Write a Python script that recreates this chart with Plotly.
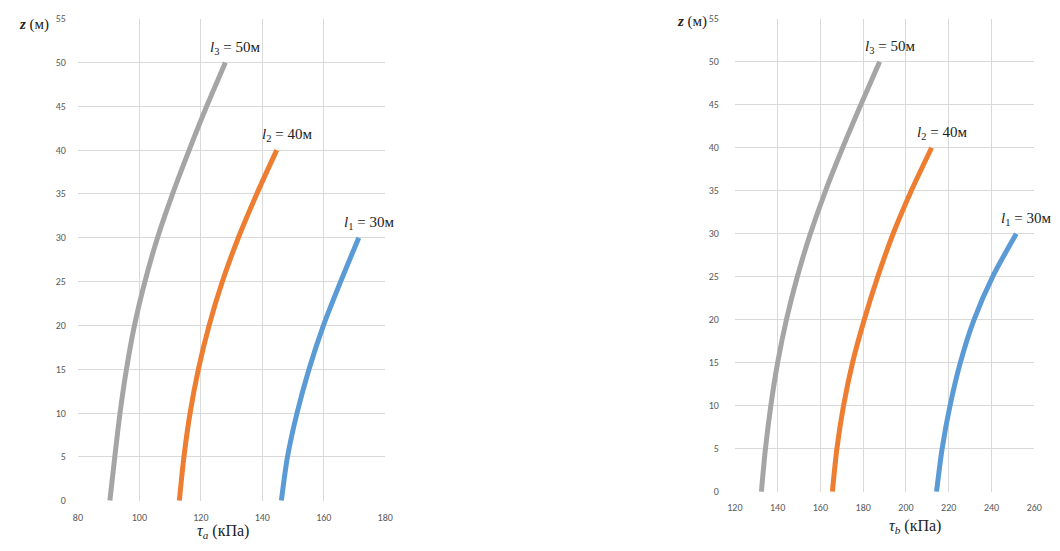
import plotly.graph_objects as go

# Depth z (m) along each pile
z_l1 = [0, 5, 10, 15, 20, 25, 30]
z_l2 = [0, 5, 10, 15, 20, 25, 30, 35, 40]
z_l3 = [0, 5, 10, 15, 20, 25, 30, 35, 40, 45, 50]

# Shear stress tau_a (kPa), left panel
tau_a_l1 = [146.2, 148.2, 151.3, 155.2, 159.9, 165.5, 171.4]
tau_a_l2 = [113.0, 114.5, 116.5, 119.2, 122.7, 127.0, 132.2, 138.2, 144.7]
tau_a_l3 = [90.4, 92.0, 93.7, 95.8, 98.4, 101.8, 105.9, 110.8, 116.2, 121.9, 128.0]

# Shear stress tau_b (kPa), right panel
tau_b_l1 = [214.3, 216.9, 220.6, 225.4, 231.8, 240.5, 251.6]
tau_b_l2 = [165.6, 167.7, 170.8, 175.0, 180.5, 186.8, 194.0, 202.5, 212.0]
tau_b_l3 = [132.4, 134.3, 136.8, 140.0, 144.1, 149.2, 155.3, 162.4, 170.4, 178.9, 187.7]

curve_names = ["l1 = 30м", "l2 = 40м", "l3 = 50м"]
curve_labels = ["<i>l</i><sub>1</sub> = 30м", "<i>l</i><sub>2</sub> = 40м", "<i>l</i><sub>3</sub> = 50м"]
colors = ["#5B9BD5", "#ED7D31", "#A5A5A5"]

W, H = 1060, 551


def fx(px):
    return px / W


def fy(py):
    return 1 - py / H


serif = "Liberation Serif, Times New Roman, serif"
tick_font = dict(family="Carlito, Liberation Sans, Arial, sans-serif", size=10, color="#595959")
grid = "#D9D9D9"

fig = go.Figure()

panels = [
    ("x", "y", [tau_a_l1, tau_a_l2, tau_a_l3]),
    ("x2", "y2", [tau_b_l1, tau_b_l2, tau_b_l3]),
]
depths = [z_l1, z_l2, z_l3]

for xa, ya, taus in panels:
    for tau, zz, col, name, lab in zip(taus, depths, colors, curve_names, curve_labels):
        fig.add_trace(go.Scatter(
            x=tau, y=zz, xaxis=xa, yaxis=ya, mode="lines", name=name,
            line=dict(color=col, width=5, shape="spline", smoothing=0.8), showlegend=False,
        ))
        fig.add_annotation(
            x=tau[-1], y=zz[-1], xref=xa, yref=ya, text=lab, showarrow=False,
            xanchor="center", yanchor="middle", xshift=10, yshift=15,
            font=dict(family=serif, size=15, color="#222222"),
        )

axis_common = dict(showgrid=True, gridcolor=grid, gridwidth=1, zeroline=False,
                   showline=False, ticks="", tickfont=tick_font, fixedrange=True)

fig.update_layout(
    width=W, height=H, autosize=False,
    margin=dict(l=0, r=0, t=0, b=0),
    paper_bgcolor="white", plot_bgcolor="white",
    xaxis=dict(domain=[fx(71), fx(383)], range=[80, 180], tickvals=list(range(80, 181, 20)),
               ticklabelstandoff=9, anchor="y", **axis_common),
    yaxis=dict(domain=[fy(506.5), fy(12)], range=[0, 55], tickvals=list(range(0, 56, 5)),
               ticklabelstandoff=11, anchor="x", **axis_common),
    xaxis2=dict(domain=[fx(738), fx(1042)], range=[120, 260], tickvals=list(range(120, 261, 20)),
                ticklabelstandoff=8, anchor="y2", **axis_common),
    yaxis2=dict(domain=[fy(497.5), fy(12)], range=[0, 55], tickvals=list(range(0, 56, 5)),
                ticklabelstandoff=15, anchor="x2", **axis_common),
)

# Axis titles
titles = [
    ("<i>τ</i><sub><i>a</i></sub> (кПа)", 218, 538, 16),
    ("<i>τ</i><sub><i>b</i></sub> (кПа)", 921, 533, 16),
    ("<b><i>z</i></b> (м)", 26, 18, 15),
    ("<b><i>z</i></b> (м)", 694, 15, 15),
]
for txt, px, py, size in titles:
    fig.add_annotation(
        x=fx(px), y=fy(py), xref="paper", yref="paper", text=txt, showarrow=False,
        xanchor="center", yanchor="middle",
        font=dict(family=serif, size=size, color="#222222"),
    )

fig.write_html("out.html")
